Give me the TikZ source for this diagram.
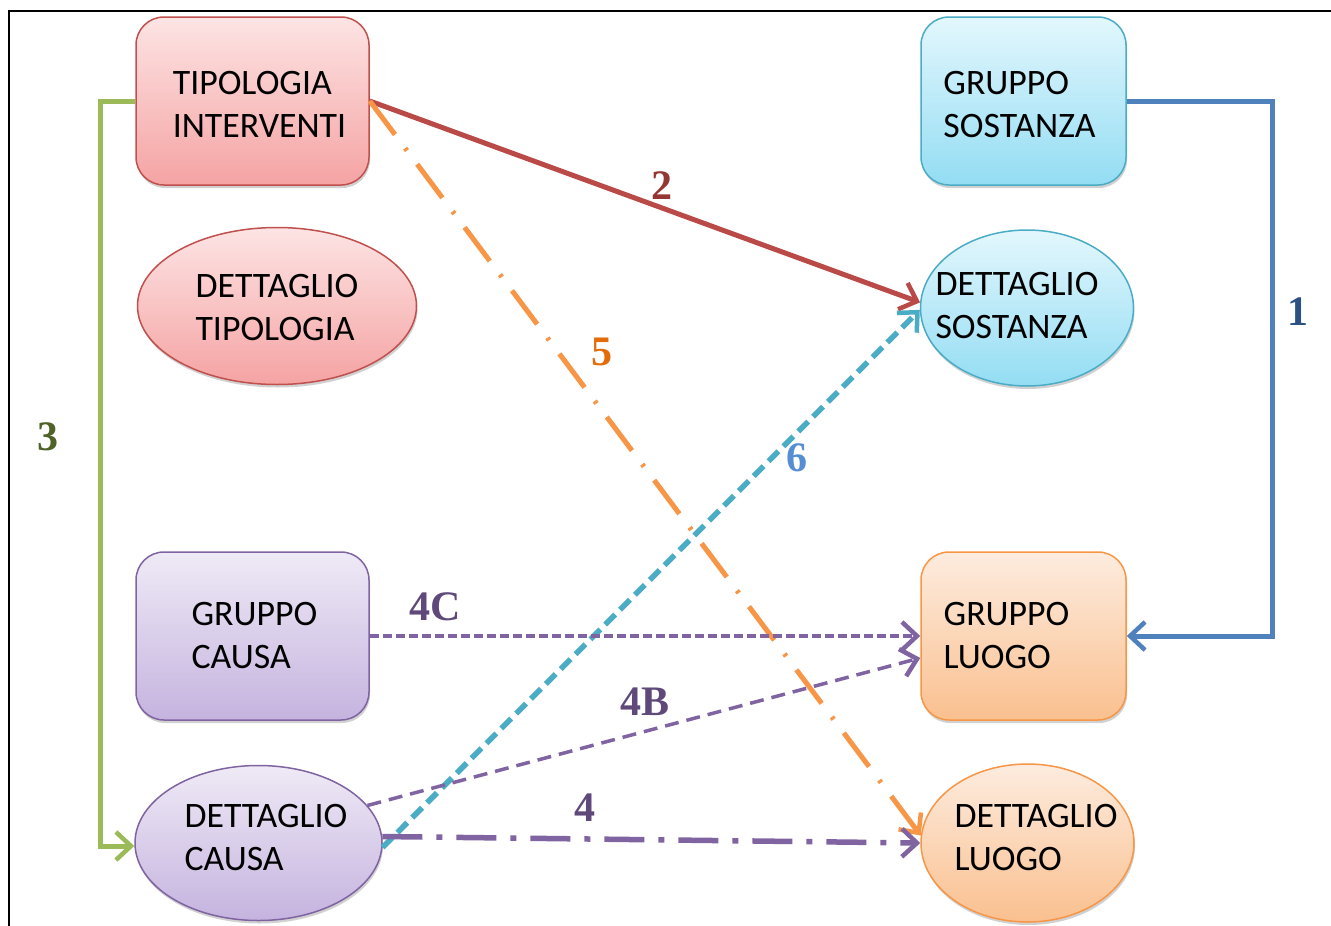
\documentclass[tikz,border=0pt]{standalone}
\usepackage{fontspec}
\setmainfont{Carlito}
\newfontfamily\labfont{Liberation Serif}
\usetikzlibrary{shapes.geometric,arrows.meta,shadows}
\definecolor{redB}{HTML}{C0504D}
\definecolor{redT}{HTML}{FDE4E4}
\definecolor{redM}{HTML}{F5A3A3}
\definecolor{bluB}{HTML}{4BACC6}
\definecolor{bluT}{HTML}{E3F7FD}
\definecolor{bluM}{HTML}{93DDF3}
\definecolor{purB}{HTML}{8064A2}
\definecolor{purT}{HTML}{EFEAF6}
\definecolor{purM}{HTML}{C5B3DF}
\definecolor{oraB}{HTML}{F79646}
\definecolor{oraT}{HTML}{FDECDF}
\definecolor{oraM}{HTML}{FAC08F}
\definecolor{lnBlue}{HTML}{4F81BD}
\definecolor{lnRed}{HTML}{B94A48}
\definecolor{lnGreen}{HTML}{9BBB59}
\definecolor{lnPur}{HTML}{8064A2}
\definecolor{lnOra}{HTML}{F79646}
\definecolor{lnCyan}{HTML}{4BACC6}
\definecolor{lb1}{HTML}{2C5184}
\definecolor{lb2}{HTML}{943634}
\definecolor{lb3}{HTML}{4F6228}
\definecolor{lb4}{HTML}{5F497A}
\definecolor{lb5}{HTML}{E36C09}
\definecolor{lb6}{HTML}{558ED5}
\tikzset{
  txt/.style={font=\fontsize{35.8}{43}\selectfont, align=left, text=black, inner sep=0pt},
  shp/.style={inner sep=0pt, line width=1.5pt},
  shad/.style={drop shadow={shadow xshift=1pt, shadow yshift=-3pt, opacity=0.18, fill=black}},
  rbox/.style={shp, rectangle, rounded corners=28pt, minimum width=233pt, minimum height=168pt, shad},
  ell/.style={shp, ellipse, shad},
  redfill/.style={draw=redB, top color=redT, bottom color=redM},
  blufill/.style={draw=bluB, top color=bluT, bottom color=bluM},
  purfill/.style={draw=purB, top color=purT, bottom color=purM},
  orafill/.style={draw=oraB, top color=oraT, bottom color=oraM},
  tip/.style={-{Straight Barb[length=15pt, width=28pt, line width=4.5pt]}},
  lab/.style={font=\labfont\bfseries\fontsize{42}{42}\selectfont, inner sep=0pt},
}
\begin{document}
\begin{tikzpicture}[x=1pt, y=-1pt]
\useasboundingbox (0,0) rectangle (1331,926);
\fill[white] (0,0) rectangle (1331,926);
\draw[black, line width=2pt] (9,927) -- (9,11) -- (1332,11);

% shapes
\node[rbox, redfill] (ti) at (252.5,101) {};
\node[rbox, blufill, minimum width=205pt] (gs) at (1023.5,101) {};
\node[ell, redfill, minimum width=279pt, minimum height=157pt] (dt) at (277,306) {};
\node[ell, blufill, minimum width=213pt, minimum height=156pt] (ds) at (1027,308) {};
\node[rbox, purfill] (gc) at (252.5,636) {};
\node[rbox, orafill, minimum width=205pt] (gl) at (1023.5,636) {};
\node[ell, purfill, minimum width=247pt, minimum height=155pt] (dc) at (258.5,843) {};
\node[ell, orafill, minimum width=213pt, minimum height=158pt] (dl) at (1027.5,843) {};

% texts
\node[txt] (ti-t) at (259.5,104.5) {TIPOLOGIA\\INTERVENTI};
\node[txt] (gs-t) at (1019.5,104.5) {GRUPPO\\SOSTANZA};
\node[txt] (dt-t) at (277,308) {DETTAGLIO\\TIPOLOGIA};
\node[txt] (ds-t) at (1017,306) {DETTAGLIO\\SOSTANZA};
\node[txt] (gc-t) at (254.5,636) {GRUPPO\\CAUSA};
\node[txt] (gl-t) at (1006.5,636) {GRUPPO\\LUOGO};
\node[txt] (dc-t) at (266,838) {DETTAGLIO\\CAUSA};
\node[txt] (dl-t) at (1036,838) {DETTAGLIO\\LUOGO};

% turning points
\coordinate (c1a) at (1272,101);
\coordinate (c1b) at (1272,636);
\coordinate (c3a) at (100,101);
\coordinate (c3b) at (100,846);

% connectors
\draw[tip, lnBlue, line width=5pt] (gs.east) -- (c1a) -- (c1b) -- (gl.east);
\draw[tip, lnGreen, line width=5pt] (ti.west) -- (c3a) -- (c3b) -- (dc.west |- c3b);
\draw[tip, lnRed, line width=5pt] (ti.east) -- (ds.177);
\draw[tip, lnOra, line width=5pt, dash pattern=on 42pt off 17pt on 3pt off 17pt] (ti.east) -- (dl.176);
\draw[tip, lnCyan, line width=5.5pt, dash pattern=on 14pt off 7pt] (dc.-2) -- (ds.181);
\draw[tip, lnPur, line width=3.5pt, dash pattern=on 9pt off 4pt] (gc.east) -- (gl.west);
\draw[tip, lnPur, line width=3.5pt, dash pattern=on 14pt off 8pt] (dc.19) -- (gl.192);
\draw[tip, lnPur, line width=5.5pt, dash pattern=on 40pt off 14pt on 6pt off 14pt] (dc.3) -- (dl.west);

% labels
\node[lab, text=lb1] (l1) at (1298,312) {1};
\node[lab, text=lb2] (l2) at (662,186) {2};
\node[lab, text=lb3] (l3) at (48,437) {3};
\node[lab, text=lb4] (l4c) at (435,607) {4C};
\node[lab, text=lb4] (l4b) at (645,702) {4B};
\node[lab, text=lb4] (l4) at (585,808) {4};
\node[lab, text=lb5] (l5) at (602,352) {5};
\node[lab, text=lb6] (l6) at (797,458) {6};
\end{tikzpicture}
\end{document}
